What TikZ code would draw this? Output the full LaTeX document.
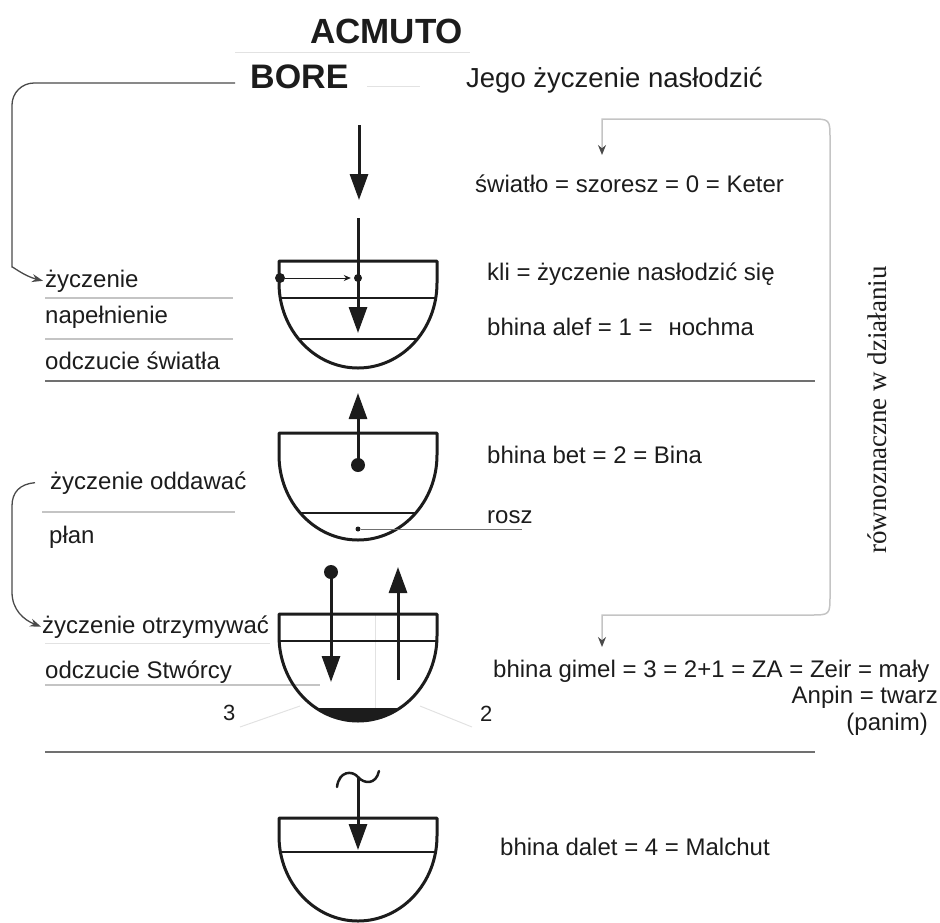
\documentclass[tikz,border=0pt]{standalone}
\usepackage{fontspec}
\setmainfont{Liberation Sans}
\newfontfamily\serifF{Liberation Serif}
\usetikzlibrary{arrows.meta}
\definecolor{ink}{HTML}{1C1C1C}
\definecolor{sep}{HTML}{707070}
\definecolor{faint}{HTML}{C4C4C4}
\definecolor{faintB}{HTML}{E2E2E2}
\definecolor{conn}{HTML}{4A4A4A}
\newcommand\cupdraw[2]{\draw[cup] (279,#1) -- (437,#1) -- (437,#1+#2) .. controls (437,#1+#2+46.9) and (401.6,#1+#2+85) .. (358,#1+#2+85) .. controls (314.4,#1+#2+85) and (279,#1+#2+46.9) .. (279,#1+#2) -- cycle;}
\newcommand\cupclip[2]{\clip (279,#1) -- (437,#1) -- (437,#1+#2) .. controls (437,#1+#2+46.9) and (401.6,#1+#2+85) .. (358,#1+#2+85) .. controls (314.4,#1+#2+85) and (279,#1+#2+46.9) .. (279,#1+#2) -- cycle;}
\begin{document}
\begin{tikzpicture}[x=1pt,y=-1pt,
  lbl/.style={inner sep=0pt, anchor=base west, text=ink, font=\fontsize{24}{28}\selectfont},
  lble/.style={lbl, anchor=base east},
  ttl/.style={inner sep=0pt, anchor=base west, text=ink, font=\bfseries\fontsize{35}{40}\selectfont},
  cup/.style={line width=3pt, draw=ink, line join=round},
  level/.style={line width=1.5pt, draw=ink},
  ray/.style={line width=3pt, draw=ink, -{Triangle[length=26pt,width=18pt]}},
  thinray/.style={line width=0.9pt, draw=ink, -{Stealth[length=7pt,width=6pt]}},
  guide/.style={line width=1.2pt, draw=faint},
  ghost/.style={line width=1pt, draw=faintB},
  sepline/.style={line width=2pt, draw=sep},
  link/.style={line width=1.3pt, draw=conn, -{Stealth[length=11pt,width=8pt]}},
  bracket/.style={line width=1.5pt, draw=faint, {Stealth[length=10pt,width=8pt,color=conn]}-{Stealth[length=10pt,width=8pt,color=conn]}},
  blob/.style={circle, fill=ink, inner sep=0pt}]
\useasboundingbox (0,0) rectangle (940,922);

% titles
\node[ttl] (acmuto) at (310,43) {ACMUTO};
\node[ttl, font=\bfseries\fontsize{34}{40}\selectfont] (bore) at (250,88) {BORE};
\node[lbl, font=\fontsize{27.5}{30}\selectfont] (jego) at (466,87) {Jego życzenie nasłodzić};
\draw[ghost] (235,52) -- (470,52);
\draw[ghost] (367,86) -- (420,86);

% right side texts
\node[lbl] (swiatlo) at (475,192) {światło = szoresz = 0 = Keter};
\node[lbl] (kli) at (487,280) {kli = życzenie nasłodzić się};
\node[lbl] (alef) at (487,335) {bhina alef = 1 =\hspace{16pt}нochma};
\node[lbl] (bet) at (487,463) {bhina bet = 2 = Bina};
\node[lbl] (rosz) at (487,523) {rosz};
\node[lbl] (gimel) at (493,677) {bhina gimel = 3 = 2+1 = ZA = Zeir = mały};
\node[lble] (anpin) at (938,703) {Anpin = twarz};
\node[lble] (panim) at (928,730) {(panim)};
\node[lbl] (dalet) at (500,855) {bhina dalet = 4 = Malchut};
\node[rotate=90, inner sep=0pt, text=ink, font=\serifF\fontsize{27}{30}\selectfont] (rown) at (877,410) {równoznaczne w działaniu};

% left texts
\node[lbl] (zyc1) at (45,287) {życzenie};
\node[lbl] (napel) at (45,323) {napełnienie};
\node[lbl] (odcz1) at (45,369) {odczucie światła};
\node[lbl] (zyc2) at (50,489) {życzenie oddawać};
\node[lbl] (plan) at (49,543) {płan};
\node[lbl] (zyc3) at (42,633) {życzenie otrzymywać};
\node[lbl] (odcz2) at (45,678) {odczucie Stwórcy};
\node[lbl, font=\fontsize{22}{26}\selectfont] (three) at (223,720) {3};
\node[lbl, font=\fontsize{22}{26}\selectfont] (two) at (480,721) {2};

% label rules
\draw[guide] (45,298) -- (233,298);
\draw[guide] (45,339) -- (233,339);
\draw[guide] (42,512) -- (235,512);
\draw[ghost] (45,643) -- (270,643);
\draw[guide] (45,685) -- (320,685);
\draw[ghost] (240,727) -- (300,706);
\draw[ghost] (420,706) -- (472,727);

% separators
\draw[sepline] (45,381) -- (815,381);
\draw[sepline] (45,752) -- (815,752);

% left connectors
\coordinate (l1s) at (235,83);
\draw[link, rounded corners=22] (l1s) -- (12,83) -- (12,245) .. controls (12,266) and (24,276) .. ([xshift=-2pt]zyc1.west);
\coordinate (l2s) at ([xshift=-15pt]zyc2.west);
\draw[link] (l2s) .. controls (20,484) and (12,492) .. (12,506) -- (12,592) .. controls (12,610) and (24,620) .. ([xshift=-1pt]zyc3.west);

% right bracket connector
\coordinate (r1) at (602,155);
\coordinate (r2) at (602,647);
\draw[bracket] (r1) -- (602,119) -- (810,119) .. controls (830,119) .. (830,139) -- (830,595) .. controls (830,615) .. (810,615) -- (602,615) -- (r2);

% ---- bowl 1
\coordinate (a0s) at (359,125);
\coordinate (a0e) at (359,200);
\draw[ray] (a0s) -- (a0e);
\cupdraw{261}{22}
\draw[level] (280,298) -- (436,298);
\draw[level] (299,339) -- (417,339);
\coordinate (a1s) at (358,218);
\coordinate (a1e) at (358,333);
\draw[ray] (a1s) -- (a1e);
\node[blob, minimum size=10pt] (d1l) at (280,278) {};
\node[blob, minimum size=8pt] (d1r) at (358,278) {};
\draw[thinray, shorten >=3pt] (d1l) -- (d1r);

% ---- bowl 2
\cupdraw{433}{22}
\draw[level] (300,513) -- (416,513);
\node[blob, minimum size=14pt] (d2) at (358,465) {};
\coordinate (a2e) at (358,393);
\draw[ray] (d2.center) -- (a2e);
\node[blob, minimum size=5pt] (d2s) at (358,529) {};
\draw[line width=0.9pt, draw=sep] (d2s) -- (522,529);

% ---- bowl 3
\draw[ghost] (375,614) -- (375,708);
\begin{scope}
\cupclip{614}{22}
\fill[ink] (270,708) rectangle (450,730);
\end{scope}
\cupdraw{614}{22}
\draw[line width=1.2pt, draw=ink] (280,641) -- (436,641);
\node[blob, minimum size=14pt] (d3) at (331,572) {};
\coordinate (a3e) at (331,682);
\draw[ray] (d3.center) -- (a3e);
\coordinate (a4s) at (398,680);
\coordinate (a4e) at (398,567);
\draw[ray] (a4s) -- (a4e);

% ---- bowl 4
\cupdraw{818}{18}
\draw[level] (281,852) -- (435,852);
\coordinate (tl) at (358,777);
\draw[line width=2.5pt, draw=ink, line cap=round] (337,787) .. controls (339,771) and (352,770) .. (tl) .. controls (364,784) and (376,785) .. (379,771);
\coordinate (a5e) at (358,850);
\draw[ray] (tl) -- (a5e);
\end{tikzpicture}
\end{document}
